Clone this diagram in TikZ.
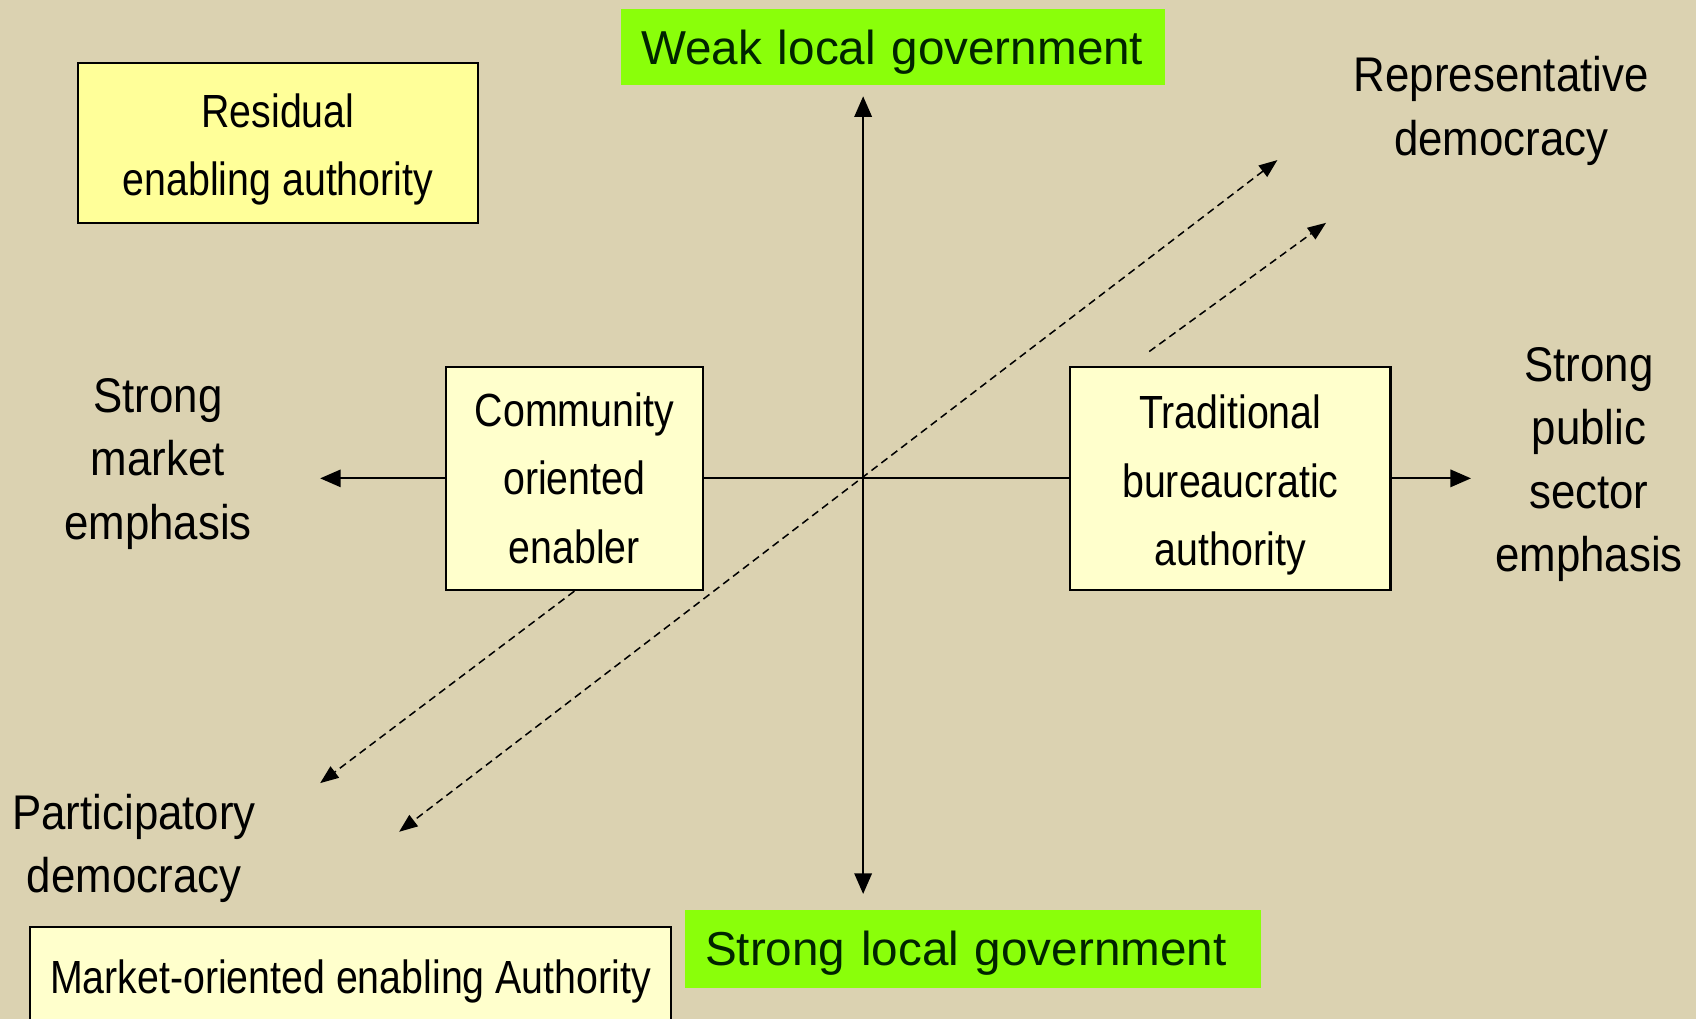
\documentclass[tikz,border=0pt]{standalone}
\usepackage{fontspec}
\setmainfont{Liberation Sans}
\newfontfamily\boxfont[FakeStretch=0.845]{Liberation Sans}
\newfontfamily\polefont[FakeStretch=0.9]{Liberation Sans}
\usepackage{tikz}
\usetikzlibrary{arrows.meta}

\definecolor{paper}{RGB}{219,210,177}
\definecolor{lime}{RGB}{138,255,10}
\definecolor{limetext}{RGB}{0,36,0}
\definecolor{pale}{RGB}{255,255,204}
\definecolor{lemon}{RGB}{255,255,153}

\newcommand\lowerline{\rule{0pt}{0.435cm}}

\begin{document}
\begin{tikzpicture}
 [ x=0.01cm
 , y=-0.01cm
 , axis/.style={line width=0.57pt, >={Triangle[length=0.19cm, width=0.16cm]}}
 , link/.style={line width=0.4pt, dash pattern=on 0.07cm off 0.045cm, >={Triangle[length=0.17cm, width=0.13cm]}}
 , gov/.style={fill=lime, text=limetext, inner xsep=0.19cm, inner ysep=0pt, align=left, text depth=0pt, font=\fontsize{12.52}{15}\selectfont}
 , kind/.style={draw, line width=0.57pt, fill=pale, inner sep=0pt, align=center, font=\boxfont\fontsize{12.23}{18.07}\selectfont}
 , pole/.style={align=center, inner sep=0pt, font=\polefont\fontsize{12.8}{16.64}\selectfont}
 ]
  \useasboundingbox (0,0) rectangle (1568,942);
  \clip (0,0) rectangle (1568,942);
  \fill[paper] (0,0) rectangle (1568,942);

  \node[gov, text width=4.65cm, minimum height=0.71cm] (weak) at (825.5,43.5) {Weak local government};
  \node[gov, text width=4.95cm, minimum height=0.72cm] (strong) at (899.5,877) {Strong local government};

  \node[kind, fill=lemon, minimum width=3.7cm, minimum height=1.48cm] (residual) at (257,132) {\lowerline Residual\\enabling authority};
  \node[kind, minimum width=2.37cm, minimum height=2.065cm] (community) at (531,442.25) {Community\\oriented\\enabler};
  \node[kind, minimum width=2.96cm, minimum height=2.065cm] (traditional) at (1137.5,442.25) {\lowerline Traditional\\bureaucratic\\authority};
  \node[kind, text depth=0pt, minimum width=5.92cm, minimum height=0.912cm] (market) at (324,902.6) {Market-oriented enabling Authority};

  \node[pole] (representative) at (1388,102.5) {Representative\\democracy};
  \node[pole] (public) at (1469,429.5) {Strong\\public\\sector\\emphasis};
  \node[pole] (marketside) at (146,429) {Strong\\market\\emphasis};
  \node[pole] (participatory) at (124,784.5) {Participatory\\democracy};

  \coordinate (top end) at (798,89);
  \coordinate (bottom end) at (798,826.5);
  \coordinate (left end) at (296,442.25);
  \coordinate (right end) at (1360,442.25);
  \coordinate (rep far) at (1181,148);
  \coordinate (rep near) at (1226,206);
  \coordinate (trad start) at (1062.5,325);
  \coordinate (part far) at (369,769);
  \coordinate (part near) at (296,724);

  \draw[axis, <->] (top end) -- (bottom end);
  \draw[axis, ->] (community.west) -- (left end);
  \draw[axis] (community.east) -- (traditional.west);
  \draw[axis, ->] (traditional.east) -- (right end);

  \draw[link, <->] (rep far) -- (part far);
  \draw[link, ->] (trad start) -- (rep near);
  \draw[link, ->] (community.south) -- (part near);
\end{tikzpicture}
\end{document}
